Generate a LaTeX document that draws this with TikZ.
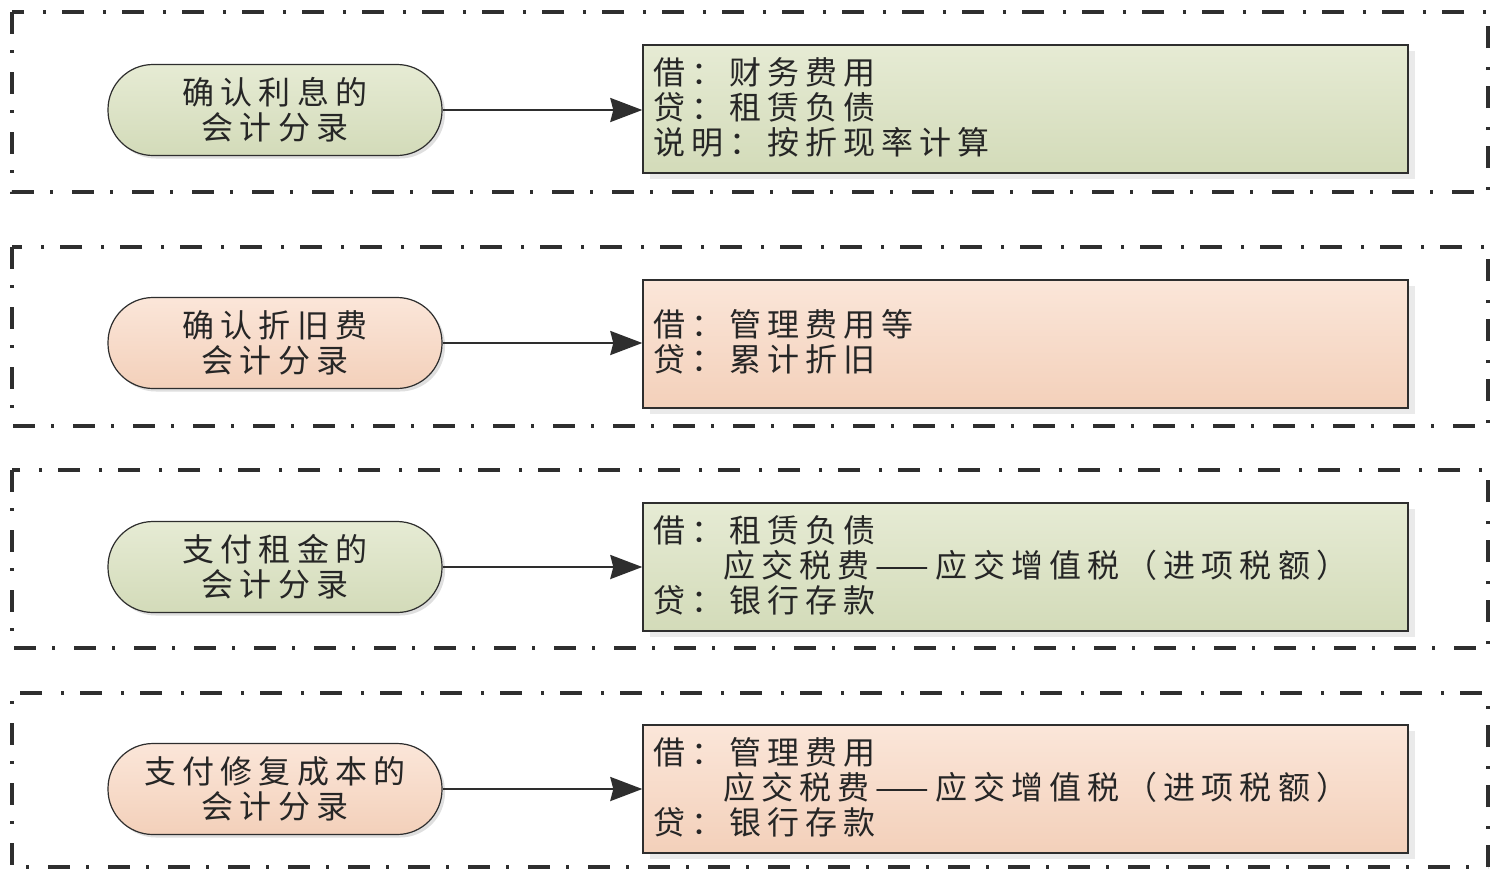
\documentclass[tikz,border=0pt]{standalone}
\usepackage{fontspec}
\newfontfamily\cjk[LetterSpace=19]{Noto Sans CJK SC}
\usetikzlibrary{arrows.meta,shadows}
\definecolor{gtop}{HTML}{E6EBD4}
\definecolor{gbot}{HTML}{D3DBB9}
\definecolor{otop}{HTML}{FBE6D9}
\definecolor{obot}{HTML}{F3D0BA}
\definecolor{ln}{HTML}{2E2E2E}
\tikzset{
  grp/.style={draw=ln, line width=3.2pt, dash pattern=on 22pt off 16pt on 3pt off 19pt},
  oval/.style={draw=ln, line width=1.2pt, rounded corners=45pt, minimum width=334pt, minimum height=91pt, align=center, font=\cjk\fontsize{32}{35}\selectfont, text=black!85, inner sep=0pt,
    drop shadow={shadow xshift=3pt, shadow yshift=-3pt, opacity=0.25}},
  ebox/.style={draw=ln, line width=1.4pt, minimum width=765pt, minimum height=128pt, inner sep=0pt,
    drop shadow={shadow xshift=7pt, shadow yshift=-6pt, opacity=0.2, fill=black!40}},
  green/.style={top color=gtop, bottom color=gbot},
  orange/.style={top color=otop, bottom color=obot},
  txt/.style={anchor=west, align=left, font=\cjk\fontsize{32}{35}\selectfont, text=black!85, inner sep=0pt},
  conn/.style={draw=ln, line width=2.4pt, -{Stealth[length=32pt, width=24pt, inset=3pt]}}
}
\begin{document}
\begin{tikzpicture}[x=1pt,y=-1pt]
\useasboundingbox (0,0) rectangle (1490,871);
\fill[white] (0,0) rectangle (1490,871);
% groups
\draw[grp] (12,12) rectangle (1488,192);
\draw[grp] (12,247) rectangle (1488,426);
\draw[grp] (12,470) rectangle (1488,648);
\draw[grp] (1488,867) -- (1488,693) -- (12,693) -- (12,867) -- cycle;
% group 1
\node[oval, green] (o1) at (275,110) {确认利息的\\会计分录};
\node[ebox, green] (b1) at (1025.5,109) {};
\node[txt] (t1) at (653,107) {借：财务费用\\贷：租赁负债\\说明：按折现率计算};
\draw[conn] (o1.east) -- (b1.west |- o1.east);
% group 2
\node[oval, orange] (o2) at (275,343) {确认折旧费\\会计分录};
\node[ebox, orange] (b2) at (1025.5,344) {};
\node[txt] (t2) at (653,341.5) {借：管理费用等\\贷：累计折旧};
\draw[conn] (o2.east) -- (b2.west |- o2.east);
% group 3
\node[oval, green] (o3) at (275,567) {支付租金的\\会计分录};
\node[ebox, green] (b3) at (1025.5,567) {};
\node[txt] (t3) at (653,565) {借：租赁负债\\\phantom{借：}应交税费——应交增值税（进项税额）\\贷：银行存款};
\draw[conn] (o3.east) -- (b3.west |- o3.east);
% group 4
\node[oval, orange] (o4) at (275,789) {支付修复成本的\\会计分录};
\node[ebox, orange] (b4) at (1025.5,789) {};
\node[txt] (t4) at (653,787) {借：管理费用\\\phantom{借：}应交税费——应交增值税（进项税额）\\贷：银行存款};
\draw[conn] (o4.east) -- (b4.west |- o4.east);
\end{tikzpicture}
\end{document}
